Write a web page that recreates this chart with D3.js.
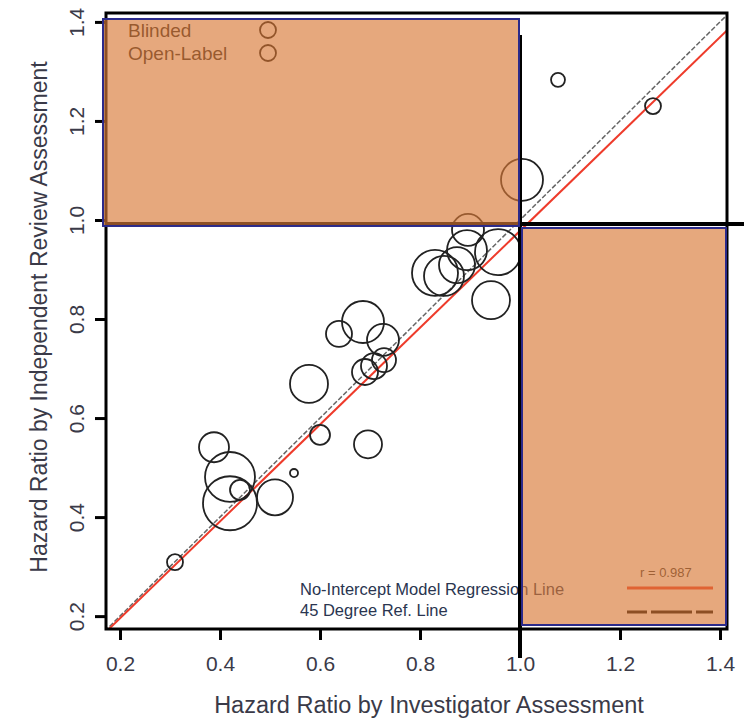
<!DOCTYPE html>
<html>
<head>
<meta charset="utf-8">
<script src="https://cdn.jsdelivr.net/npm/d3@7"></script>
<style>
  html, body { margin: 0; padding: 0; background: #fff; }
  svg { display: block; font-family: "Liberation Sans", Arial, Helvetica, sans-serif; }
</style>
</head>
<body>
<svg id="chart" width="744" height="719"></svg>
<script>
// ---- data ----
const investigatorHR = [1.076, 1.266, 1.004, 0.896, 0.830, 0.848, 0.874, 0.894, 0.956, 0.942,
                        0.686, 0.638, 0.726, 0.690, 0.708, 0.728, 0.578, 0.600, 0.696, 0.548,
                        0.388, 0.420, 0.420, 0.440, 0.510, 0.310];
const reviewHR       = [1.283, 1.230, 1.081, 0.980, 0.893, 0.887, 0.909, 0.939, 0.935, 0.838,
                        0.794, 0.770, 0.758, 0.693, 0.705, 0.717, 0.669, 0.566, 0.547, 0.489,
                        0.541, 0.481, 0.428, 0.455, 0.440, 0.309];
const sampleSize     = [54, 71, 490, 284, 588, 444, 360, 444, 588, 401,
                        490, 188, 284, 188, 188, 160, 401, 111, 218, 18,
                        250, 694, 810, 111, 360, 71];
const xTicks = [0.2, 0.4, 0.6, 0.8, 1.0, 1.2, 1.4];
const yTicks = [0.2, 0.4, 0.6, 0.8, 1.0, 1.2, 1.4];
const slope = 0.978;          // no-intercept regression slope
const corrText = "r = 0.987";
const legendTopLabels = ["Blinded", "Open-Label"];
const legendBottomLabels = ["No-Intercept Model Regression Line", "45 Degree Ref. Line"];
const xTitle = "Hazard Ratio by Investigator Assessment";
const yTitle = "Hazard Ratio by Independent Review Assessment";

// ---- layout ----
const svg = d3.select("#chart");
const L = 106, R = 727, T = 13, B = 629;
const x = d3.scaleLinear().domain([0.172, 1.414]).range([L, R]);
const y = d3.scaleLinear().domain([0.174, 1.418]).range([B, T]);
const r = d3.scaleSqrt().domain([0, 1000]).range([0, 30]);

const orangeFill = "rgb(217,122,55)";
const orangeOpacity = 0.65;
const navy = "#2b2a8a";
const textCol = "#3a3a48";

svg.append("clipPath").attr("id", "plotclip")
  .append("rect").attr("x", L).attr("y", T).attr("width", R - L).attr("height", B - T);

const plot = svg.append("g").attr("clip-path", "url(#plotclip)");

// 45-degree reference line
plot.append("line")
  .attr("x1", x(0)).attr("y1", y(0)).attr("x2", x(2)).attr("y2", y(2))
  .attr("stroke", "#666").attr("stroke-width", 1.5).attr("stroke-dasharray", "5,2");

// regression line
plot.append("line")
  .attr("x1", x(0)).attr("y1", y(0)).attr("x2", x(2)).attr("y2", y(2 * slope))
  .attr("stroke", "#ee3b2b").attr("stroke-width", 2);

// circles
const pts = investigatorHR.map((v, i) => ({ x: v, y: reviewHR[i], n: sampleSize[i] }));
plot.selectAll("circle.pt").data(pts).enter().append("circle")
  .attr("class", "pt")
  .attr("cx", d => x(d.x)).attr("cy", d => y(d.y)).attr("r", d => r(d.n))
  .attr("fill", "none").attr("stroke", "#222").attr("stroke-width", 1.8);

// frame
svg.append("rect").attr("x", L).attr("y", T).attr("width", R - L).attr("height", B - T)
  .attr("fill", "none").attr("stroke", "#000").attr("stroke-width", 3);

// axes
const xAxis = svg.append("g").attr("transform", `translate(0,${B})`)
  .call(d3.axisBottom(x).tickValues(xTicks).tickSize(11).tickFormat(d3.format(".1f")));
xAxis.select(".domain").remove();
xAxis.selectAll("line").attr("stroke", "#000").attr("stroke-width", 3);
xAxis.selectAll("text").attr("font-size", 21).attr("fill", textCol)
  .attr("dy", null).attr("y", 42);

const yAxis = svg.append("g").attr("transform", `translate(${L},0)`)
  .call(d3.axisLeft(y).tickValues(yTicks).tickSize(11).tickFormat(d3.format(".1f")));
yAxis.select(".domain").remove();
yAxis.selectAll("line").attr("stroke", "#000").attr("stroke-width", 3);
yAxis.selectAll("text").attr("font-size", 21).attr("fill", textCol)
  .attr("x", null).attr("dy", null)
  .attr("text-anchor", "middle")
  .attr("transform", "translate(-22,0) rotate(-90)");

// axis titles
svg.append("text").attr("x", 429).attr("y", 713)
  .attr("text-anchor", "middle").attr("font-size", 23.5).attr("fill", textCol).text(xTitle);
svg.append("text").attr("transform", `translate(47,317) rotate(-90)`)
  .attr("text-anchor", "middle").attr("font-size", 23).attr("fill", textCol).text(yTitle);

// top-left legend (under the box)
legendTopLabels.forEach((lab, i) => {
  svg.append("text").attr("x", 128).attr("y", 37 + i * 23)
    .attr("font-size", 19).attr("fill", "#222").text(lab);
  svg.append("circle").attr("cx", 268).attr("cy", 30 + i * 23).attr("r", 8)
    .attr("fill", "none").attr("stroke", "#111").attr("stroke-width", 1.8);
});

// bottom legend
legendBottomLabels.forEach((lab, i) => {
  svg.append("text").attr("x", 300).attr("y", 595 + i * 21)
    .attr("font-size", 16.5).attr("fill", "#2a3550").text(lab);
});
svg.append("text").attr("x", 640).attr("y", 577).attr("font-size", 13).attr("fill", "#333").text(corrText);
svg.append("line").attr("x1", 627).attr("x2", 713).attr("y1", 588).attr("y2", 588)
  .attr("stroke", "#ee3b2b").attr("stroke-width", 3);
svg.append("line").attr("x1", 627).attr("x2", 713).attr("y1", 612).attr("y2", 612)
  .attr("stroke", "#000").attr("stroke-width", 3).attr("stroke-dasharray", "20,4,41,4,18");

// reference lines at HR = 1
svg.append("line").attr("x1", L).attr("x2", 744).attr("y1", y(1.0) + 4).attr("y2", y(1.0) + 4)
  .attr("stroke", "#000").attr("stroke-width", 4);
svg.append("line").attr("x1", x(1.0)).attr("x2", x(1.0)).attr("y1", 35).attr("y2", 658)
  .attr("stroke", "#000").attr("stroke-width", 4);

// highlight boxes (discordant regions)
svg.append("rect")
  .attr("x", x.range()[0] - 3).attr("y", T + 6)
  .attr("width", x(1.0) - 1 - (x.range()[0] - 3)).attr("height", y(1.0) + 6 - (T + 6))
  .attr("fill", orangeFill).attr("fill-opacity", orangeOpacity)
  .attr("stroke", navy).attr("stroke-width", 2);
svg.append("rect")
  .attr("x", x(1.0) + 2).attr("y", y(1.0) + 8)
  .attr("width", R - 1 - (x(1.0) + 2)).attr("height", B - 4 - (y(1.0) + 8))
  .attr("fill", orangeFill).attr("fill-opacity", orangeOpacity)
  .attr("stroke", navy).attr("stroke-width", 2);
</script>
</body>
</html>
